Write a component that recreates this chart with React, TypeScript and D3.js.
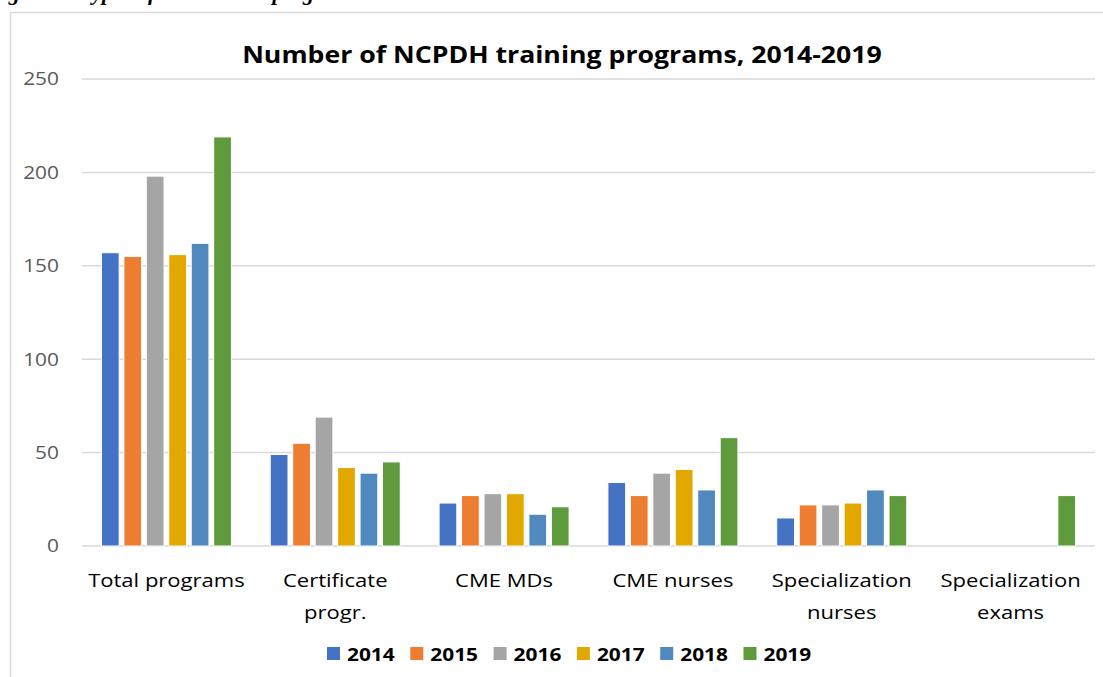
import React, { useEffect, useRef } from 'react'
import * as d3 from 'd3'

const categories = [
  ['Total programs'],
  ['Certificate', 'progr.'],
  ['CME MDs'],
  ['CME nurses'],
  ['Specialization', 'nurses'],
  ['Specialization', 'exams'],
]
const years = ['2014', '2015', '2016', '2017', '2018', '2019']
const colors = ['#4472c4', '#ed7d31', '#a5a5a5', '#e2a800', '#4f89bd', '#5f9a3d']

const values2014 = [157, 49, 23, 34, 15, 0]
const values2015 = [155, 55, 27, 27, 22, 0]
const values2016 = [198, 69, 28, 39, 22, 0]
const values2017 = [156, 42, 28, 41, 23, 0]
const values2018 = [162, 39, 17, 30, 30, 0]
const values2019 = [219, 45, 21, 58, 27, 27]
const series = [values2014, values2015, values2016, values2017, values2018, values2019]

const yTicks = [0, 50, 100, 150, 200, 250]

const FONT = '"Open Sans", sans-serif'
// the reference picture is stretched sideways, so the text is too
const SX = 1.16

const App = () => {
  const ref = useRef<SVGSVGElement>(null)

  useEffect(() => {
    const width = 1103
    const height = 677
    const margin = { top: 79, right: 8, bottom: 131, left: 82 }
    const boundedWidth = width - margin.left - margin.right
    const boundedHeight = height - margin.top - margin.bottom

    const svg = d3.select(ref.current)
    svg.selectAll('*').remove()

    // caption of the figure, cut off at the top of the page
    svg.append('text')
      .attr('x', -12)
      .attr('y', -0.5)
      .attr('font-family', '"Liberation Serif", serif')
      .attr('font-weight', 'bold')
      .attr('font-style', 'italic')
      .attr('font-size', 22)
      .attr('fill', '#000')
      .text('Figure 3: Types of educational programs')

    // chart frame
    svg.append('rect')
      .attr('x', 10.5)
      .attr('y', 12.5)
      .attr('width', 1120)
      .attr('height', 700)
      .attr('fill', 'white')
      .attr('stroke', '#d9d9d9')
      .attr('stroke-width', 1.5)

    svg.append('text')
      .attr('transform', `translate(562, 63) scale(${SX}, 1)`)
      .attr('text-anchor', 'middle')
      .attr('font-family', FONT)
      .attr('font-weight', 'bold')
      .attr('font-size', 23)
      .attr('fill', '#000')
      .text('Number of NCPDH training programs, 2014-2019')

    const bounds = svg.append('g')
      .attr('transform', `translate(${margin.left}, ${margin.top})`)

    const yScale = d3.scaleLinear()
      .domain([0, 250])
      .range([boundedHeight, 0])

    const x0 = d3.scaleBand()
      .domain(categories.map((d, i) => String(i)))
      .range([0, boundedWidth])
      .paddingInner(0.23)
      .paddingOuter(0.115)

    const x1 = d3.scaleBand()
      .domain(years)
      .range([0, x0.bandwidth()])
      .paddingInner(0.21)

    // gridlines
    bounds.selectAll('.grid')
      .data(yTicks)
      .join('line')
      .attr('class', 'grid')
      .attr('x1', 0)
      .attr('x2', boundedWidth)
      .attr('y1', d => yScale(d))
      .attr('y2', d => yScale(d))
      .attr('stroke', '#d9d9d9')
      .attr('stroke-width', 1.5)

    bounds.selectAll('.ytick')
      .data(yTicks)
      .join('text')
      .attr('class', 'ytick')
      .attr('transform', d => `translate(-23, ${yScale(d)}) scale(${SX}, 1)`)
      .attr('dy', '0.36em')
      .attr('text-anchor', 'end')
      .attr('font-family', FONT)
      .attr('font-size', 18)
      .attr('fill', '#595959')
      .text(d => d)

    // bars
    const groups = bounds.selectAll('.group')
      .data(categories)
      .join('g')
      .attr('class', 'group')
      .attr('transform', (d, i) => `translate(${x0(String(i))}, 0)`)

    groups.selectAll('rect')
      .data((d, i) => series.map((s, j) => ({ year: years[j], value: s[i], color: colors[j] })))
      .join('rect')
      .attr('x', d => x1(d.year))
      .attr('y', d => yScale(d.value))
      .attr('width', x1.bandwidth())
      .attr('height', d => boundedHeight - yScale(d.value))
      .attr('fill', d => d.color)
      .attr('stroke', 'white')
      .attr('stroke-width', d => d.value > 0 ? 1 : 0)

    // category labels
    const labels = bounds.selectAll('.xlabel')
      .data(categories)
      .join('text')
      .attr('class', 'xlabel')
      .attr('transform', (d, i) =>
        `translate(${x0(String(i)) + x0.bandwidth() / 2}, ${boundedHeight + 41}) scale(${SX}, 1)`)
      .attr('text-anchor', 'middle')
      .attr('font-family', FONT)
      .attr('font-size', 19)
      .attr('fill', '#000')

    labels.selectAll('tspan')
      .data(d => d)
      .join('tspan')
      .attr('x', 0)
      .attr('dy', (d, i) => i === 0 ? 0 : 32)
      .text(d => d)

    // legend
    const legend = svg.append('g')
      .attr('transform', 'translate(327, 647)')

    const items = legend.selectAll('g')
      .data(years)
      .join('g')
      .attr('transform', (d, i) => `translate(${i * 83.3}, 0)`)

    items.append('rect')
      .attr('width', 13)
      .attr('height', 13)
      .attr('fill', (d, i) => colors[i])

    items.append('text')
      .attr('transform', `translate(20, 13.5) scale(${SX}, 1)`)
      .attr('font-family', FONT)
      .attr('font-weight', 'bold')
      .attr('font-size', 18)
      .attr('fill', '#000')
      .text(d => d)
  }, [])

  return (
    <svg
      ref={ref}
      width={1103}
      height={677}
      style={{ position: 'absolute', left: 0, top: 0, background: 'white' }}
    />
  )
}

export default App
